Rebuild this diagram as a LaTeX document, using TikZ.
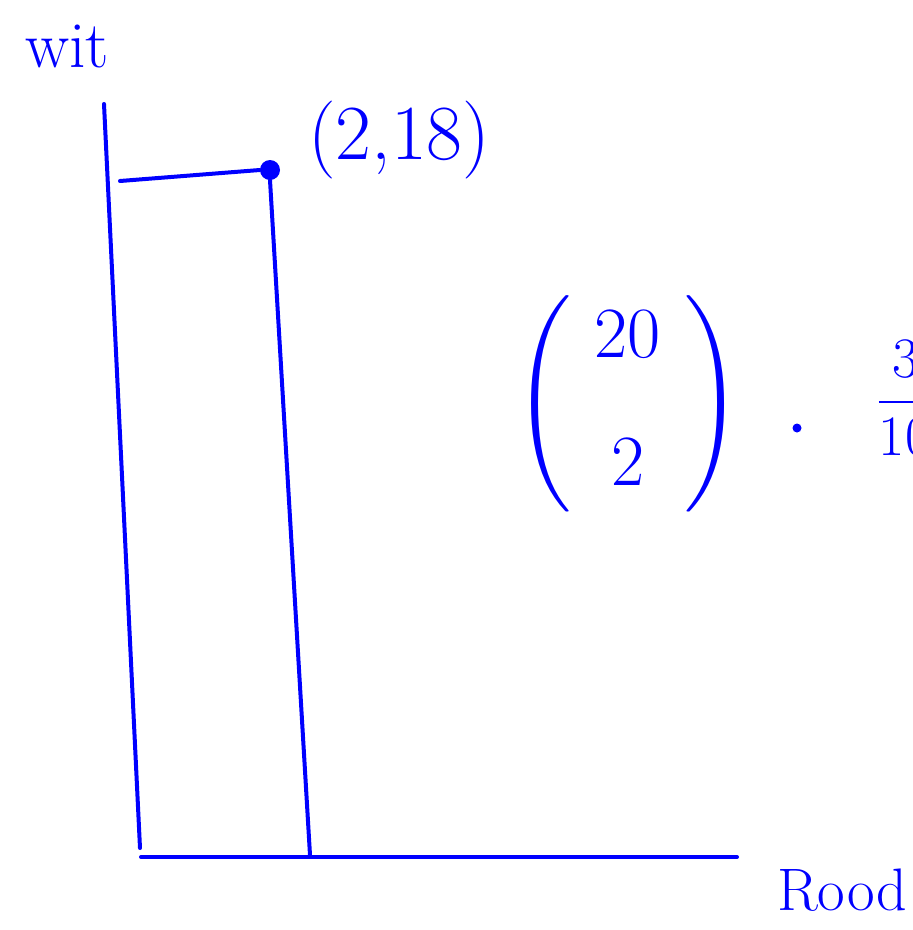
\documentclass[tikz,border=0pt]{standalone}
\usepackage{amsmath}
\usepackage{graphicx}
\usetikzlibrary{positioning}
\definecolor{pen}{RGB}{0,0,255}
\begin{document}
\begin{tikzpicture}[x=1pt, y=-1pt,
    ink/.style={draw=pen, line width=4pt, line cap=round},
    lbl/.style={text=pen, inner sep=0pt, font=\fontsize{58}{64}\selectfont}]
        \useasboundingbox (0,0) rectangle (913,930);
        \clip (0,0) rectangle (913,930);

        % Axes
        \coordinate (ytop) at (104,104);
        \coordinate (ybot) at (140,848);
        \coordinate (xl) at (141,857);
        \coordinate (xr) at (737,857);
        \draw[ink] (ytop) -- (ybot);
        \draw[ink] (xl) -- (xr);

        % Point and guide lines
        \node[circle, fill=pen, minimum size=20pt, inner sep=0pt] (pt) at (270,170) {};
        \coordinate (yh) at (120,181);
        \coordinate (xf) at (310,855);
        \draw[ink] (yh) -- (pt.west);
        \draw[ink] (pt.south) -- (xf);
        \node[lbl, anchor=west, font=\fontsize{78}{84}\selectfont] (ptlbl) at (308,140) {(2,18)};

        % Axis labels
        \node[lbl, font=\fontsize{66}{72}\selectfont] (wit) at (67,46) {wit};
        \node[lbl, font=\fontsize{60}{66}\selectfont] (rood) at (842,890) {Rood};

        % Calculation
        \node[lbl, font=\Huge] (binom) at (628,404) {\scalebox{2.9}{$\left(\begin{array}{@{\hspace{8pt}}c@{\hspace{8pt}}}20\\[14pt]2\end{array}\right)$}};
        \node[circle, fill=pen, minimum size=9pt, inner sep=0pt] (mult) at (797,428) {};
        \node[lbl, anchor=west, font=\Huge] (frac) at (876,398) {\scalebox{2.3}{$\dfrac{3}{10}$}};
    \end{tikzpicture}
\end{document}
